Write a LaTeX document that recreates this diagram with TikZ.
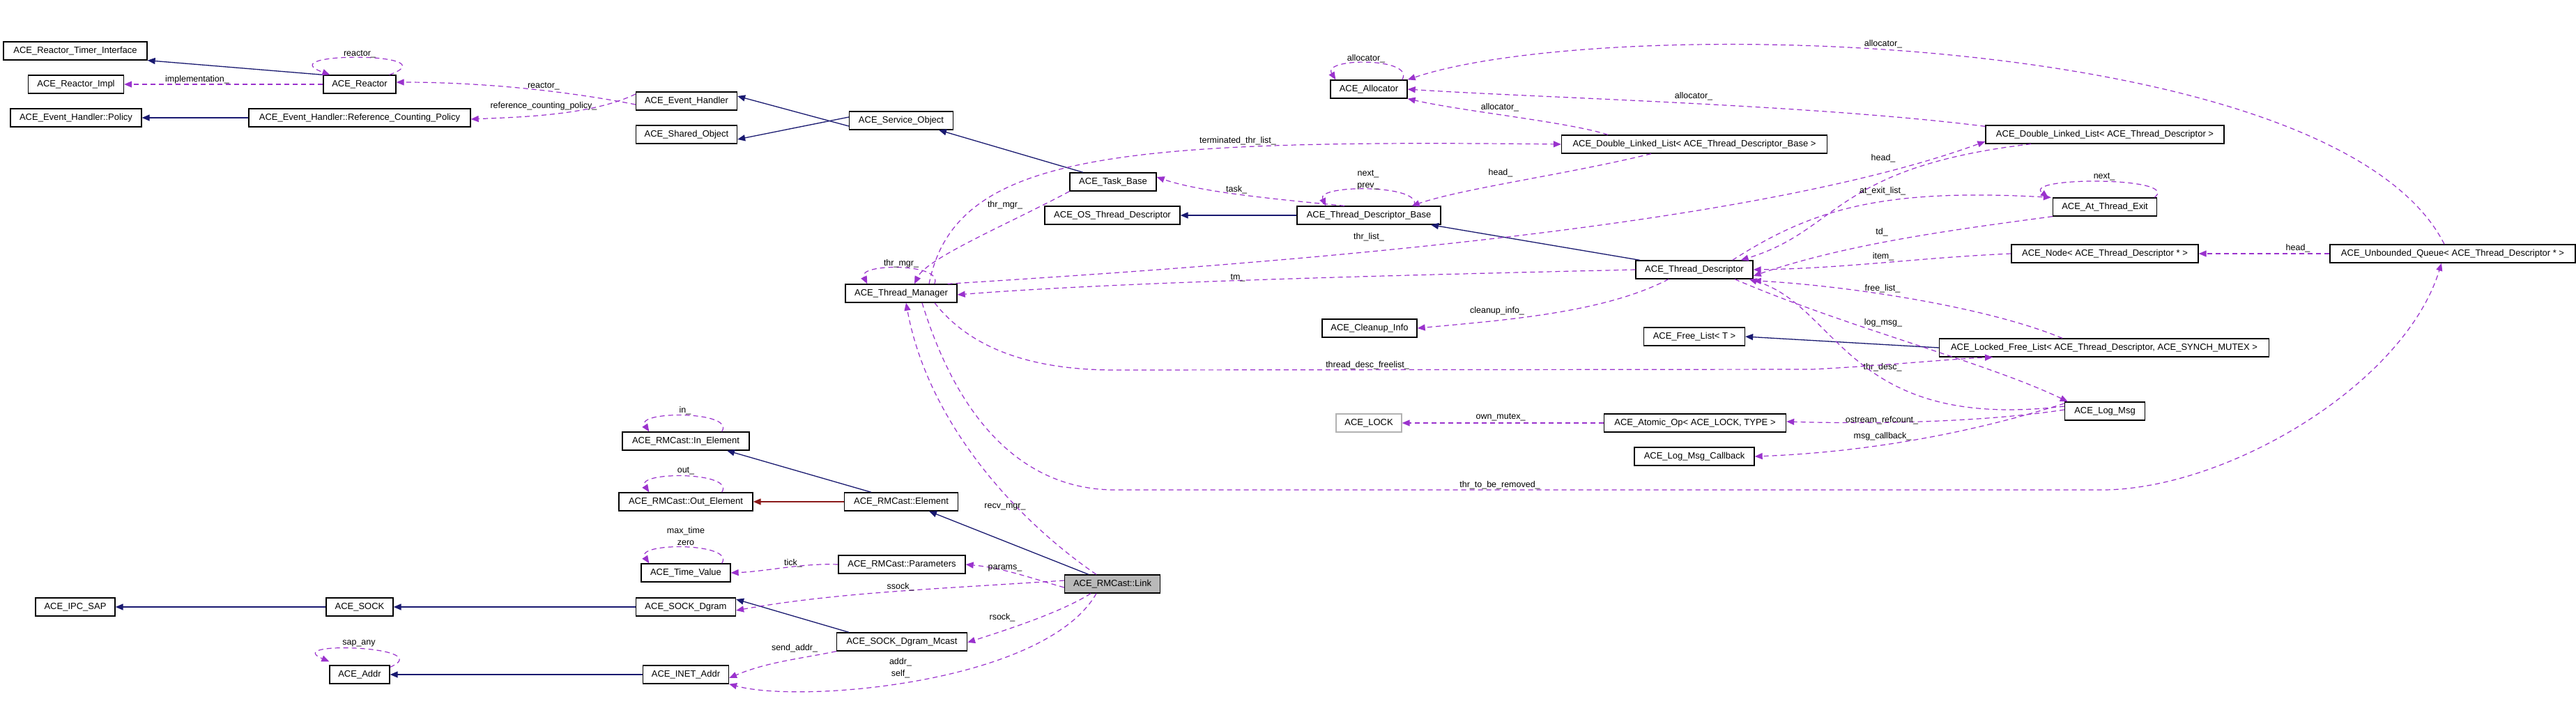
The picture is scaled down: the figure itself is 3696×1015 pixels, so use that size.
\documentclass[tikz,border=0pt]{standalone}
\usepackage{fontspec}
\setmainfont{Liberation Sans}
\usetikzlibrary{arrows.meta}
\definecolor{pur}{HTML}{9A32CD}
\definecolor{nav}{HTML}{191970}
\definecolor{dred}{HTML}{8B1A1A}
\tikzset{
 box/.style={draw=black,line width=1.3pt,minimum height=26pt,inner sep=0pt,font=\fontsize{13}{15}\selectfont},
 gbox/.style={box,draw=gray!60},
 use/.style={draw=pur,line width=1.2pt,dash pattern=on 7pt off 5pt,-{Triangle[length=11pt,width=9pt]}},
 inh/.style={draw=nav,line width=1.3pt,-{Triangle[length=11pt,width=9pt]}},
 lab/.style={font=\fontsize{12.5}{15}\selectfont,inner sep=0pt,align=center},
}
\begin{document}
\begin{tikzpicture}[x=1pt,y=-1pt]
\useasboundingbox[fill=white] (0,0) rectangle (3696,1015);
% nodes
\node[box,minimum width=206pt] (tri) at (108,73) {ACE\_Reactor\_Timer\_Interface};
\node[box,minimum width=137pt] (rimpl) at (109,121) {ACE\_Reactor\_Impl};
\node[box,minimum width=104pt] (reactor) at (516,121) {ACE\_Reactor};
\node[box,minimum width=188pt] (policy) at (109,169) {ACE\_Event\_Handler::Policy};
\node[box,minimum width=318pt] (rcp) at (516,169) {ACE\_Event\_Handler::Reference\_Counting\_Policy};
\node[box,minimum width=145pt] (eh) at (985,145) {ACE\_Event\_Handler};
\node[box,minimum width=145pt] (so) at (985,193) {ACE\_Shared\_Object};
\node[box,minimum width=149pt] (svc) at (1293,173) {ACE\_Service\_Object};
\node[box,minimum width=160pt] (tm) at (1293,421) {ACE\_Thread\_Manager};
\node[box,minimum width=124pt] (task) at (1597,261) {ACE\_Task\_Base};
\node[box,minimum width=194pt] (ostd) at (1596,309) {ACE\_OS\_Thread\_Descriptor};
\node[box,minimum width=206pt] (tdb) at (1964,309) {ACE\_Thread\_Descriptor\_Base};
\node[box,minimum width=110pt] (alloc) at (1964,128) {ACE\_Allocator};
\node[box,minimum width=381pt] (dllb) at (2431,207) {ACE\_Double\_Linked\_List< ACE\_Thread\_Descriptor\_Base >};
\node[box,minimum width=168pt] (td) at (2431,387) {ACE\_Thread\_Descriptor};
\node[box,minimum width=342pt] (dlltd) at (3020,193) {ACE\_Double\_Linked\_List< ACE\_Thread\_Descriptor >};
\node[box,minimum width=149pt] (ate) at (3020,297) {ACE\_At\_Thread\_Exit};
\node[box,minimum width=268pt] (nd) at (3020,364) {ACE\_Node< ACE\_Thread\_Descriptor * >};
\node[box,minimum width=352pt] (uq) at (3519,364) {ACE\_Unbounded\_Queue< ACE\_Thread\_Descriptor * >};
\node[box,minimum width=145pt] (fl) at (2431,483) {ACE\_Free\_List< T >};
\node[box,minimum width=473pt] (lfl) at (3019,499) {ACE\_Locked\_Free\_List< ACE\_Thread\_Descriptor, ACE\_SYNCH\_MUTEX >};
\node[box,minimum width=115pt] (logm) at (3020,590) {ACE\_Log\_Msg};
\node[box,minimum width=261pt] (atom) at (2432,607) {ACE\_Atomic\_Op< ACE\_LOCK, TYPE >};
\node[box,minimum width=172pt] (lmc) at (2431,655) {ACE\_Log\_Msg\_Callback};
\node[box,minimum width=136pt] (cleanup) at (1965,471) {ACE\_Cleanup\_Info};
\node[gbox,minimum width=94pt] (lock) at (1964,607) {ACE\_LOCK};
\node[box,minimum width=163pt] (elem) at (1293,720) {ACE\_RMCast::Element};
\node[box,minimum width=182pt] (params) at (1294,810) {ACE\_RMCast::Parameters};
\node[box,fill=gray!55,minimum width=137pt] (link) at (1596,838) {ACE\_RMCast::Link};
\node[box,minimum width=187pt] (mcast) at (1294,921) {ACE\_SOCK\_Dgram\_Mcast};
\node[box,minimum width=182pt] (inel) at (984,633) {ACE\_RMCast::In\_Element};
\node[box,minimum width=192pt] (outel) at (984,720) {ACE\_RMCast::Out\_Element};
\node[box,minimum width=128pt] (tv) at (984,822) {ACE\_Time\_Value};
\node[box,minimum width=114pt] (ipc) at (108,871) {ACE\_IPC\_SAP};
\node[box,minimum width=96pt] (sock) at (516,871) {ACE\_SOCK};
\node[box,minimum width=143pt] (dgram) at (984,871) {ACE\_SOCK\_Dgram};
\node[box,minimum width=86pt] (addr) at (516,968) {ACE\_Addr};
\node[box,minimum width=123pt] (inet) at (984,968) {ACE\_INET\_Addr};
% inheritance
\draw[inh] (reactor.north west) -- (tri.south east);
\draw[inh] (rcp.west) -- (policy.east);
\draw[inh] ([yshift=-8pt]svc.west) -- ([yshift=7pt]eh.east);
\draw[inh] ([yshift=5pt]svc.west) -- ([yshift=-7pt]so.east);
\draw[inh] ([xshift=-43pt]task.north) -- ([xshift=54pt]svc.south);
\draw[inh] (tdb.west) -- (ostd.east);
\draw[inh] ([xshift=-78pt]td.north) -- ([xshift=89pt]tdb.south);
\draw[inh] (lfl.west) -- (fl.east);
\draw[inh] ([xshift=-43pt]elem.north) -- ([xshift=59pt]inel.south);
\draw[inh,draw=dred] (elem.west) -- (outel.east);
\draw[inh] ([xshift=-34pt]link.north) -- ([xshift=40pt]elem.south);
\draw[inh] (sock.west) -- (ipc.east);
\draw[inh] (dgram.west) -- (sock.east);
\draw[inh] ([xshift=-76pt]mcast.north) -- ([yshift=11pt]dgram.east);
\draw[inh] (inet.west) -- (addr.east);
% self loops
\draw[use] ([xshift=-10pt]reactor.north east) .. controls +(90,-33) and +(-90,-33) .. ([xshift=10pt]reactor.north west);
\node[lab] (l1) at (516,78) {reactor\_};
\draw[use] ([xshift=-8pt]alloc.north east) .. controls +(20,-32) and +(-20,-32) .. ([xshift=8pt]alloc.north west);
\node[lab] (l2) at (1960,84) {allocator\_};
\draw[use] ([xshift=-39pt]tdb.north east) .. controls +(15,-31) and +(-15,-31) .. ([xshift=42pt]tdb.north west);
\node[lab] (l3) at (1963,258) {next\_\\[2pt]prev\_};
\draw[use] ([xshift=-33pt]tm.north east) .. controls +(15,-30) and +(-15,-30) .. ([xshift=32pt]tm.north west);
\node[lab] (l4) at (1293,378) {thr\_mgr\_};
\draw[use] ([xshift=-4pt]ate.north east) .. controls +(40,-30) and +(-40,-30) .. ([xshift=-6pt]ate.north west);
\node[lab] (l5) at (3019,254) {next\_};
\draw[use] ([xshift=-40pt]inel.north east) .. controls +(20,-30) and +(-20,-30) .. ([xshift=39pt]inel.north west);
\node[lab] (l6) at (983,589) {in\_};
\draw[use] ([xshift=-45pt]outel.north east) .. controls +(20,-30) and +(-20,-30) .. ([xshift=44pt]outel.north west);
\node[lab] (l7) at (984,676) {out\_};
\draw[use] ([xshift=-13pt]tv.north east) .. controls +(20,-30) and +(-20,-30) .. ([xshift=12pt]tv.north west);
\node[lab] (l8) at (984,770) {max\_time\\[2pt]zero};
\draw[use] ([yshift=-3pt]addr.north east) .. controls +(70,-30) and +(-70,-30) .. ([yshift=5pt]addr.north west);
\node[lab] (l9) at (515,923) {sap\_any};
% usage edges
\draw[use] (reactor.west) -- (rimpl.east);
\node[lab] (l10) at (283,114) {implementation\_};
\draw[use] ([yshift=-5pt]eh.west) .. controls (820,132) and (700,118) .. ([yshift=3pt]reactor.east);
\node[lab] (l11) at (780,124) {reactor\_};
\draw[use] ([yshift=10pt]eh.west) .. controls (850,165) and (750,168) .. ([yshift=-2pt]rcp.east);
\node[lab] (l12) at (780,152) {reference\_counting\_policy\_};
\draw[use] ([xshift=-35pt]tdb.north) .. controls (1820,285) and (1720,275) .. ([yshift=7pt]task.east);
\node[lab] (l13) at (1774,272) {task\_};
\draw[use] ([xshift=-62pt]dllb.south) .. controls (2250,250) and (2100,270) .. ([xshift=-42pt]tdb.north east);
\node[lab] (l14) at (2153,248) {head\_};
\draw[use] ([xshift=-124pt]dllb.north) .. controls (2250,175) and (2100,160) .. (alloc.south east);
\node[lab] (l15) at (2152,154) {allocator\_};
\draw[use] ([yshift=-2pt]dlltd.north west) .. controls (2600,150) and (2200,140) .. (alloc.east);
\node[lab] (l16) at (2430,138) {allocator\_};
\draw[use] ([xshift=-12pt]uq.north) .. controls (3350,40) and (2300,20) .. (alloc.north east);
\node[lab] (l17) at (2702,63) {allocator\_};
\draw[use] ([xshift=40pt]tm.north) .. controls (1370,220) and (1600,200) .. (dllb.west);
\node[lab] (l18) at (1776,202) {terminated\_thr\_list\_};
\draw[use] (task.south west) .. controls (1450,320) and (1330,370) .. ([xshift=19pt]tm.north);
\node[lab] (l19) at (1442,294) {thr\_mgr\_};
\draw[use] ([xshift=-14pt]tm.north east) .. controls (1800,380) and (2500,330) .. ([yshift=-10pt]dlltd.west);
\node[lab] (l20) at (1964,340) {thr\_list\_};
\draw[use] (td.west) .. controls (2000,395) and (1600,405) .. ([yshift=-2pt]tm.east);
\node[lab] (l21) at (1776,399) {tm\_};
\draw[use] ([xshift=-37pt]td.south) .. controls (2300,450) and (2150,460) .. (cleanup.east);
\node[lab] (l22) at (2148,446) {cleanup\_info\_};
\draw[use] ([xshift=-106pt]dlltd.south) .. controls (2630,240) and (2640,330) .. ([xshift=-18pt]td.north east);
\node[lab] (l23) at (2702,227) {head\_};
\draw[use] ([xshift=-30pt]td.north east) .. controls (2600,300) and (2700,270) .. ([xshift=-2pt]ate.north west);
\node[lab] (l24) at (2701,274) {at\_exit\_list\_};
\draw[use] (ate.south west) .. controls (2800,330) and (2650,350) .. ([yshift=-9pt]td.east);
\node[lab] (l25) at (2700,333) {td\_};
\draw[use] (nd.west) .. controls (2750,370) and (2650,385) .. (td.east);
\node[lab] (l26) at (2702,368) {item\_};
\draw[use] (uq.west) -- (nd.east);
\node[lab] (l27) at (3297,356) {head\_};
\draw[use] ([xshift=-60pt]lfl.north) .. controls (2850,440) and (2650,410) .. ([yshift=-2pt]td.south east);
\node[lab] (l28) at (2701,414) {free\_list\_};
\draw[use] ([xshift=58pt]td.south) .. controls (2650,470) and (2850,520) .. ([xshift=5pt]logm.north west);
\node[lab] (l29) at (2702,463) {log\_msg\_};
\draw[use] ([yshift=7pt]logm.west) .. controls (2650,620) and (2640,440) .. ([xshift=-6pt]td.south east);
\node[lab] (l30) at (2701,527) {thr\_desc\_};
\draw[use] ([xshift=48pt]tm.south) .. controls (1400,510) and (1500,531) .. (1600,531) -- (2600,530) .. controls (2700,525) and (2800,515) .. ([xshift=-160pt]lfl.south);
\node[lab] (l31) at (1962,524) {thread\_desc\_freelist\_};
\draw[use] ([xshift=30pt]tm.south) .. controls (1380,620) and (1480,703) .. (1600,703) -- (3020,703) .. controls (3200,700) and (3450,550) .. ([xshift=-16pt]uq.south);
\node[lab] (l32) at (2152,696) {thr\_to\_be\_removed\_};
\draw[use] ([xshift=-23pt]link.north) .. controls (1450,740) and (1330,600) .. ([xshift=7pt]tm.south);
\node[lab] (l33) at (1442,727) {recv\_mgr\_};
\draw[use] ([yshift=-5pt]link.west) .. controls (1480,830) and (1440,815) .. (params.east);
\node[lab] (l34) at (1442,815) {params\_};
\draw[use] ([yshift=5pt]link.west) .. controls (1350,845) and (1200,850) .. ([yshift=-5pt]dgram.east);
\node[lab] (l35) at (1292,842) {ssock\_};
\draw[use] ([xshift=-31pt]link.south) .. controls (1520,880) and (1440,905) .. ([yshift=-1pt]mcast.east);
\node[lab] (l36) at (1438,886) {rsock\_};
\draw[use] ([xshift=-23pt]link.south) .. controls (1500,980) and (1150,1010) .. (inet.south east);
\node[lab] (l37) at (1292,959) {addr\_\\[2pt]self\_};
\draw[use] (params.west) .. controls (1150,808) and (1100,820) .. (tv.east);
\node[lab] (l38) at (1138,808) {tick\_};
\draw[use] (mcast.south west) .. controls (1150,945) and (1100,950) .. ([yshift=-5pt]inet.east);
\node[lab] (l39) at (1140,930) {send\_addr\_};
\draw[use] (atom.west) -- (lock.east);
\node[lab] (l40) at (2153,599) {own\_mutex\_};
\draw[use] ([yshift=2pt]logm.west) .. controls (2850,605) and (2700,609) .. ([yshift=2pt]atom.east);
\node[lab] (l41) at (2700,603) {ostream\_refcount\_};
\draw[use] ([yshift=11pt]logm.west) .. controls (2800,630) and (2650,650) .. (lmc.east);
\node[lab] (l42) at (2701,626) {msg\_callback\_};
\end{tikzpicture}
\end{document}
